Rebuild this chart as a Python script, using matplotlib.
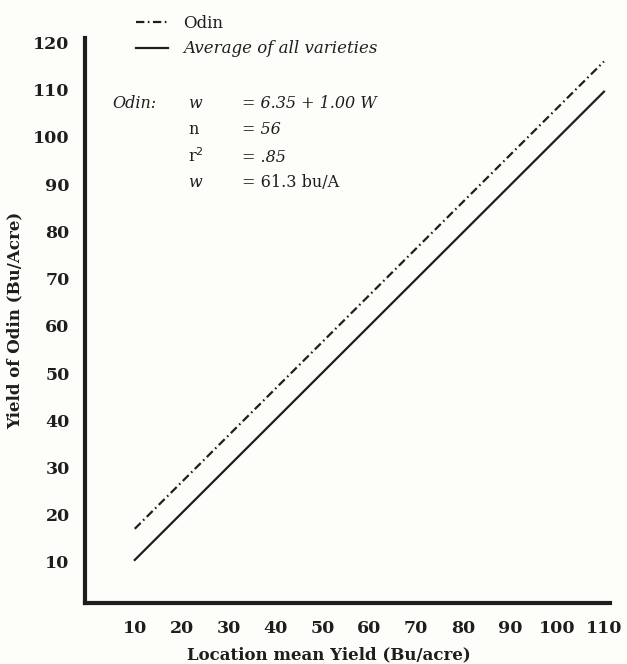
import matplotlib
matplotlib.use("Agg")
import matplotlib.pyplot as plt

# values
x_ends = [10, 110]
odin_yield = [17.0, 116.0]
avg_yield = [10.4, 109.6]
x_ticks = [10, 20, 30, 40, 50, 60, 70, 80, 90, 100, 110]
y_ticks = [10, 20, 30, 40, 50, 60, 70, 80, 90, 100, 110, 120]

stats_names = ["w", "n", "r$^2$", "w"]
stats_values = ["= 6.35 + 1.00 W", "= 56", "= .85", "= 61.3 bu/A"]
stats_italic = [True, False, False, True]
value_italic = [True, True, True, False]

plt.rcParams["font.family"] = "DejaVu Serif"
plt.rcParams["lines.scale_dashes"] = False
ink = "#1e1e1e"
paper = "#fdfdf9"

fig = plt.figure(figsize=(6.27, 6.64), dpi=100, facecolor=paper)
ax = fig.add_axes([0.1356, 0.092, 0.973 - 0.1356, 0.943 - 0.092])
ax.set_facecolor(paper)

odin_line, = ax.plot(x_ends, odin_yield, color=ink, lw=1.6,
                     dashes=(6, 2.5, 1.2, 2.5))
avg_line, = ax.plot(x_ends, avg_yield, color=ink, lw=1.6)

ax.set_xlim(-0.6, 111.3)
ax.set_ylim(1.3, 121)
ax.set_xticks(x_ticks)
ax.set_yticks(y_ticks)
ax.tick_params(length=0, labelsize=12.5, colors=ink)
ax.tick_params(axis="x", pad=12)
ax.tick_params(axis="y", pad=11)
for lab in ax.get_xticklabels() + ax.get_yticklabels():
    lab.set_fontweight("bold")

for side in ["top", "right"]:
    ax.spines[side].set_visible(False)
for side in ["left", "bottom"]:
    ax.spines[side].set_linewidth(3)
    ax.spines[side].set_color(ink)

ax.set_xlabel("Location mean Yield (Bu/acre)", fontsize=12, fontweight="bold",
              color=ink, va="center")
ax.xaxis.set_label_coords(0.465, -0.092)
ax.set_ylabel("Yield of Odin (Bu/Acre)", fontsize=12, fontweight="bold",
              color=ink)
ax.yaxis.set_label_coords(-0.118, 0.5)

# legend above the axes
leg = fig.legend([odin_line, avg_line], ["Odin", "Average of all varieties"],
                 loc="upper left", bbox_to_anchor=(121 / 627, 1 + 0 / 664),
                 frameon=False, handlelength=1.9, handletextpad=0.95,
                 labelspacing=0.5, prop={"style": "italic", "size": 12})
for t in leg.get_texts():
    t.set_color(ink)
leg.get_texts()[0].set_style("normal")

# fit statistics
fig.text(112 / 627, 1 - 104 / 664, "Odin:", style="italic", fontsize=11.5,
         color=ink, va="center")
rows_y = [104, 130, 157, 182]
for name, val, ni, vi, yy in zip(stats_names, stats_values, stats_italic,
                                 value_italic, rows_y):
    fig.text(188 / 627, 1 - yy / 664, name, fontsize=11.5, color=ink,
             va="center", style="italic" if ni else "normal")
    fig.text(242 / 627, 1 - yy / 664, val, fontsize=11.5, color=ink,
             va="center", style="italic" if vi else "normal")

fig.savefig("out.png", dpi=100, facecolor=paper)
